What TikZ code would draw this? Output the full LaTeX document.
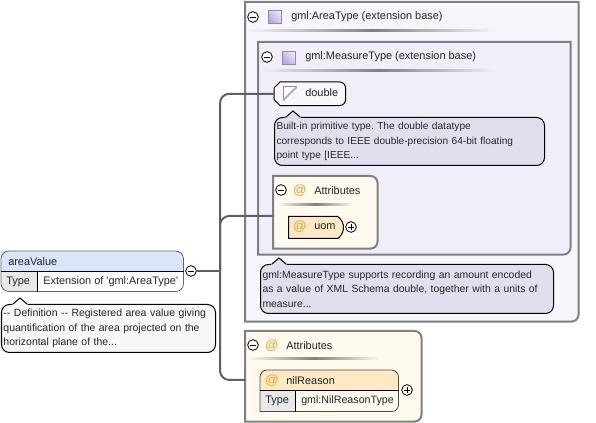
\documentclass[tikz,border=0pt]{standalone}
\usepackage{fontspec}
\setmainfont{Liberation Sans}
\usepackage{xcolor}
\usetikzlibrary{calc,shapes.misc}
\definecolor{edgegray}{HTML}{808080}
\definecolor{linkgray}{HTML}{606060}
\definecolor{basefill}{HTML}{F7F5FC}
\definecolor{innerfill}{HTML}{F0EEF8}
\definecolor{notefill}{HTML}{E3DEEE}
\definecolor{attrfill}{HTML}{FFF9EE}
\definecolor{attrhead}{HTML}{FFE9C4}
\definecolor{elemhead}{HTML}{DAE6F8}
\definecolor{cellgray}{HTML}{E8E8E8}
\definecolor{atorange}{HTML}{E8A030}
\definecolor{iconviolet}{HTML}{B8A8DC}
\frenchspacing

\begin{document}
\begin{tikzpicture}[
  x=0.75pt, y=-0.75pt,
  font=\fontsize{8.2}{10.9}\selectfont,
  place/.style 2 args={anchor=north west, inner sep=0pt, minimum width=#1*0.75pt, minimum height=#2*0.75pt},
  label/.style={anchor=west, inner sep=0pt, text=black!85},
  edge/.style={draw=edgegray, line width=1.5pt},
  thin edge/.style={draw=black, line width=0.75pt},
  note/.style 2 args={anchor=north west, draw=black, line width=0.75pt, rounded corners=6pt,
               align=left, inner sep=1.5pt, text=black!85,
               minimum width=#1*0.75pt, text width=#1*0.75pt-3pt, minimum height=#2*0.75pt},
  link/.style={draw=linkgray, line width=1.5pt, rounded corners=7pt},
  toggle/.style={circle, draw=black, fill=white, line width=0.6pt, minimum size=8pt, inner sep=0pt},
  minus/.style={toggle, path picture={\draw[line width=0.5pt] ($(path picture bounding box.center)+(-2.2pt,0)$) -- ++(4.4pt,0);}},
  plus/.style={toggle, path picture={\draw[line width=0.5pt] ($(path picture bounding box.center)+(-2.2pt,0)$) -- ++(4.4pt,0);
               \draw[line width=0.5pt] ($(path picture bounding box.center)+(0,-2.2pt)$) -- ++(0,4.4pt);}},
  square/.style={anchor=north west, minimum size=9.6pt, inner sep=0pt, draw=iconviolet!80!black, line width=0.6pt,
                 top color=white!70!iconviolet, bottom color=iconviolet, shading angle=-45},
  atsign/.style={inner sep=0pt, text=atorange, font=\fontsize{10}{10}\selectfont},
  rule/.style={left color=#1, right color=#1, middle color=edgegray}
]
\useasboundingbox (0,0) rectangle (596,423);

% extension base frames
\node[place={333}{319}] (areabox) at (245,2) {};
\draw[edge, fill=basefill] (areabox.north west) -- (areabox.north east) -- ($(areabox.south east)+(0,-7)$) to[out=-90,in=0] ($(areabox.south east)+(-7,0)$) -- (areabox.south west) -- cycle;
\node[minus] (areamin) at (253,17) {};
\node[square] (areaicon) at (268,10) {};
\node[label] (areatitle) at (291,16.5) {gml:AreaType (extension base)};
\shade[rule=basefill] (247,30) rectangle (497,32);

\node[place={312}{212}] (measbox) at (258,42) {};
\draw[edge, fill=innerfill] (measbox.north west) -- (measbox.north east) -- ($(measbox.south east)+(0,-7)$) to[out=-90,in=0] ($(measbox.south east)+(-7,0)$) -- (measbox.south west) -- cycle;
\node[minus] (measmin) at (267,57) {};
\node[square] (measicon) at (282,51) {};
\node[label] (meastitle) at (305,56.5) {gml:MeasureType (extension base)};
\shade[rule=innerfill] (262,70) rectangle (495,72);

% double
\node[place={71}{23}] (dbl) at (274,82) {};
\draw[thin edge, fill=white!55!innerfill] ($(dbl.north west)+(6,0)$) -- ($(dbl.north east)+(-6,0)$) to[out=0,in=90] ($(dbl.north east)+(0,6)$) -- ($(dbl.south east)+(0,-6)$) to[out=-90,in=0] ($(dbl.south east)+(-6,0)$) -- ($(dbl.south west)+(6,0)$) -- ($(dbl.south west)+(0,-6)$) -- ($(dbl.north west)+(0,6)$) -- cycle;
\node[place={13}{13}] (dblicon) at (283,87) {};
\fill[white] (dblicon.south west) -- (dblicon.north west) -- (dblicon.north east) -- cycle;
\draw[iconviolet!70!purple, line width=0.75pt] (dblicon.south west) -- (dblicon.north west) -- (dblicon.north east);
\draw[black!30, line width=1.5pt] (dblicon.south west) -- (dblicon.north east);

\node[label] (dbltext) at (305,92.5) {double};

\node[note={270}{48}, fill=notefill, font=\fontsize{7.6}{10.9}\selectfont] (dblnote) at (274,117) {Built-in primitive type. The double datatype\\ corresponds to IEEE double-precision 64-bit floating\\ point type [IEEE...};

% attributes of the measure type
\node[place={104}{72}] (attrone) at (273,176) {};
\draw[edge, fill=attrfill] (attrone.south west) -- (attrone.north west) -- ($(attrone.north east)+(-7,0)$) to[out=0,in=90] ($(attrone.north east)+(0,7)$) -- ($(attrone.south east)+(0,-7)$) to[out=-90,in=0] ($(attrone.south east)+(-7,0)$) -- cycle;
\node[minus] (attronemin) at (281,190) {};
\node[atsign] (attroneat) at (300,191) {@};
\node[label] (attronetitle) at (314,190.5) {Attributes};
\shade[rule=attrfill] (277,204) rectangle (353,206);

\node[rounded rectangle, rounded rectangle west arc=none, rounded rectangle arc length=110, draw=black, line width=0.75pt, fill=attrhead, anchor=north west, inner sep=0pt, minimum width=55*0.75pt, minimum height=22*0.75pt] (uom) at (288,216) {};
\node[atsign] (uomat) at (300,227) {@};
\node[label] (uomtext) at (314,226.5) {uom};
\node[plus] (uomplus) at (351,227) {};

\node[note={293}{49}, fill=notefill, font=\fontsize{7.8}{10.9}\selectfont] (measnote) at (260,264) {gml:MeasureType supports recording an amount encoded\\ as a value of XML Schema double, together with a units of\\ measure...};

% attributes of the element
\node[place={176}{90}] (attrtwo) at (245,331) {};
\draw[edge, fill=attrfill] (attrtwo.south west) -- (attrtwo.north west) -- ($(attrtwo.north east)+(-7,0)$) to[out=0,in=90] ($(attrtwo.north east)+(0,7)$) -- ($(attrtwo.south east)+(0,-7)$) to[out=-90,in=0] ($(attrtwo.south east)+(-7,0)$) -- cycle;
\node[minus] (attrtwomin) at (253,345) {};
\node[atsign] (attrtwoat) at (272,346) {@};
\node[label] (attrtwotitle) at (286,345.5) {Attributes};
\shade[rule=attrfill] (248,358) rectangle (380,360);

\node[place={138}{41}] (nil) at (260,370) {};
\fill[attrhead, rounded corners=5pt] (nil.north west) -- (nil.north east) -- ($(nil.north east)+(0,21)$) [sharp corners] -- ($(nil.north west)+(0,21)$) -- cycle;
\fill[cellgray] ($(nil.north west)+(0,21)$) rectangle ($(nil.south west)+(35,0)$);
\draw[line width=0.6pt, draw=black!70] ($(nil.north west)+(0,7)$) to[out=90,in=180] ($(nil.north west)+(7,0)$) -- ($(nil.north east)+(-7,0)$) to[out=0,in=90] ($(nil.north east)+(0,7)$) -- ($(nil.south east)+(0,-7)$) to[out=-90,in=0] ($(nil.south east)+(-7,0)$) -- (nil.south west) -- cycle;
\draw[line width=0.75pt] ($(nil.north west)+(0,21)$) -- ($(nil.north east)+(0,21)$);
\draw[line width=0.75pt] ($(nil.north west)+(35,21)$) -- ($(nil.south west)+(35,0)$);
\node[atsign] (nilat) at (272,381) {@};
\node[label] (niltext) at (286,380.5) {nilReason};
\node[label] (niltype) at (265,401) {Type};
\node[label, font=\fontsize{8}{10.9}\selectfont] (nilval) at (301,401) {gml:NilReasonType};
\node[plus] (nilplus) at (407,390) {};

% the element itself
\node[place={182}{40}] (area) at (1,251) {};
\fill[elemhead, rounded corners=5pt] (area.north west) -- (area.north east) -- ($(area.north east)+(0,21)$) [sharp corners] -- ($(area.north west)+(0,21)$) -- cycle;
\fill[cellgray, rounded corners=5pt] ($(area.north west)+(0,21)$) [sharp corners] -- ($(area.north west)+(36,21)$) -- ($(area.south west)+(36,0)$) [rounded corners=5pt] -- (area.south west) [sharp corners] -- cycle;
\draw[line width=0.6pt, draw=black!60, rounded corners=6pt] (area.north west) -- (area.north east) -- (area.south east) -- (area.south west) -- cycle;
\draw[line width=0.75pt] ($(area.north west)+(0,21)$) -- ($(area.north east)+(0,21)$);
\draw[line width=0.75pt] ($(area.north west)+(36,21)$) -- ($(area.south west)+(36,0)$);
\node[label] (areaname) at (8,262) {areaValue};
\node[label] (areatype) at (6,282) {Type};
\node[label] (areaval) at (43,282) {Extension of \textquotesingle gml:AreaType\textquotesingle};

\node[note={214}{48}, fill=black!3, font=\fontsize{7.85}{10.9}\selectfont] (defnote) at (1,304) {-{}- Definition -{}- Registered area value giving\\ quantification of the area projected on the\\ horizontal plane of the...};

% tips of the notes
\foreach \n/\o/\c in {dblnote/19/notefill, measnote/19/notefill, defnote/19/black!3} {
  \fill[\c] ($(\n.north west)+(\o-8,1)$) -- ($(\n.north west)+(\o,-6)$) -- ($(\n.north west)+(\o+8,1)$) -- cycle;
  \draw[line width=0.75pt] ($(\n.north west)+(\o-7,0)$) -- ($(\n.north west)+(\o,-6)$) -- ($(\n.north west)+(\o+7,0)$);
}

% connectors
\node[minus] (areaout) at (191,271) {};
\coordinate (trunk) at (220,271);
\coordinate (attronein) at (273,216);
\coordinate (attrtwoin) at (245,380);
\draw[link] (areaout.east) -- (trunk);
\draw[link] (dbl.west) -| (trunk);
\draw[link] (attronein) -| (trunk);
\draw[link] (attrtwoin) -| (trunk);
\end{tikzpicture}
\end{document}
